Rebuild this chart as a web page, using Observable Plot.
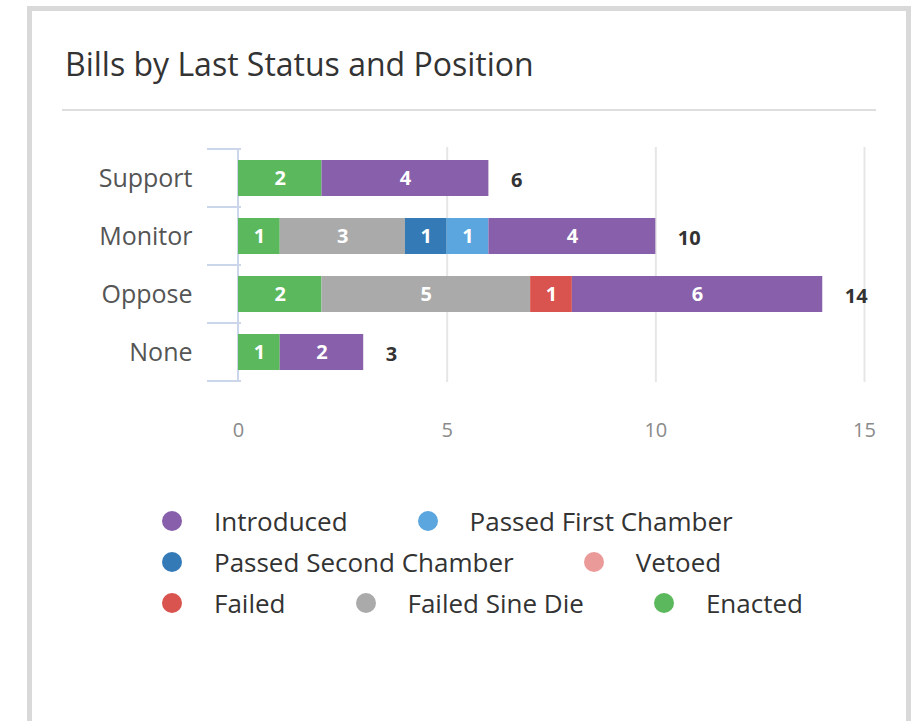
<!DOCTYPE html>
<html><head><meta charset="utf-8">
<script src="https://cdn.jsdelivr.net/npm/d3@7"></script>
<script src="https://cdn.jsdelivr.net/npm/@observablehq/plot@0.6"></script>
<style>
body{margin:0;background:#fff;font-family:"Open Sans",sans-serif;}
#page{position:relative;width:923px;height:721px;overflow:hidden;background:#fff}
#card{position:absolute;left:27px;top:6px;width:884px;height:800px;border:5px solid #d9d9d9;box-sizing:border-box;background:#fff}
#title{position:absolute;left:65px;top:48px;font-size:32px;line-height:32px;color:#333;white-space:nowrap}
#rule{position:absolute;left:62px;top:109px;width:814px;height:2px;background:#dedede}
#chart{position:absolute;left:0;top:130px}
#legend{position:absolute;left:162px;top:500px}
.row{display:flex;align-items:center;height:41px}
.item{display:flex;align-items:center;margin-right:70px;font-size:26px;color:#333;white-space:nowrap}
.dot{width:20px;height:20px;border-radius:50%;margin-right:32px}
</style></head>
<body><div id="page">
<div id="card"></div>
<div id="title">Bills by Last Status and Position</div>
<div id="rule"></div>
<div id="chart"></div>
<div id="legend"></div>
</div>
<script>
const positions = ["Support","Monitor","Oppose","None"];
const statuses = ["Introduced","Passed First Chamber","Passed Second Chamber","Vetoed","Failed","Failed Sine Die","Enacted"];
const statusColors = ["#875fab","#5ba6df","#337ab7","#eb9a9a","#d9534f","#aaaaaa","#5cb85c"];
const introduced = [4,4,6,2];
const passedFirst = [0,1,0,0];
const passedSecond = [0,1,0,0];
const vetoed = [0,0,0,0];
const failed = [0,0,1,0];
const failedSineDie = [0,3,5,0];
const enacted = [2,1,2,1];
const xTicks = [0,5,10,15];
const legendRows = [["Introduced","Passed First Chamber"],["Passed Second Chamber","Vetoed"],["Failed","Failed Sine Die","Enacted"]];

const seriesByStatus = {
  "Introduced": introduced, "Passed First Chamber": passedFirst, "Passed Second Chamber": passedSecond,
  "Vetoed": vetoed, "Failed": failed, "Failed Sine Die": failedSineDie, "Enacted": enacted
};
// stack order: reverse of legend order (Enacted leftmost)
const stackOrder = statuses.slice().reverse();
const rows = [];
for (const s of stackOrder) positions.forEach((p,i)=>{ const v = seriesByStatus[s][i]; if (v>0) rows.push({position:p,status:s,value:v}); });
const totals = positions.map((p,i)=>({position:p,total:statuses.reduce((a,s)=>a+seriesByStatus[s][i],0)}));

function yBracket(index, scales, values, dimensions) {
  const y = scales.y, x0 = scales.x(0);
  const bw = typeof y.bandwidth === "function" ? y.bandwidth() : (typeof y.bandwidth === "number" ? y.bandwidth : (y(positions[1]) - y(positions[0])));
  const tops = positions.map(p=>y(p));
  const bounds = [...tops, tops[tops.length-1]+bw];
  const g = d3.create("svg:g").attr("stroke","#ccd6eb").attr("stroke-width",2);
  g.append("line").attr("x1",x0).attr("x2",x0).attr("y1",bounds[0]).attr("y2",bounds[bounds.length-1]);
  for (const b of bounds) g.append("line").attr("x1",x0-31).attr("x2",x0+3).attr("y1",b).attr("y2",b);
  return g.node();
}

const chart = Plot.plot({
  width: 923, height: 330,
  marginLeft: 238, marginRight: 59, marginTop: 17, marginBottom: 78,
  style: {fontFamily: "Open Sans, sans-serif", background: "transparent"},
  x: {domain: [0,15], ticks: xTicks, label: null},
  y: {domain: positions, padding: 0, label: null},
  color: {domain: statuses, range: statusColors},
  marks: [
    Plot.gridX(xTicks.filter(t=>t>0), {stroke:"#e6e6e6", strokeOpacity:1, strokeWidth:2}),
    Plot.axisX({ticks: xTicks, tickSize: 0, tickPadding: 40, fontSize: 20, color: "#8a8a8a", label: null}),
    Plot.axisY({tickSize: 0, tickPadding: 46, fontSize: 25, color: "#555", label: null}),
    yBracket,
    Plot.barX(rows, Plot.stackX({x:"value", y:"position", fill:"status", insetTop: 11, insetBottom: 11})),
    Plot.text(rows, Plot.stackX({x:"value", y:"position", z:"status", text:"value", fill:"white", fontSize: 20, fontWeight:"bold"})),
    Plot.text(totals, {x:"total", y:"position", text:"total", dx: 22, textAnchor:"start", fill:"#333", fontSize: 20, fontWeight:"bold", dy: 2})
  ]
});
document.getElementById("chart").appendChild(chart);

const legend = document.getElementById("legend");
for (const r of legendRows) {
  const row = document.createElement("div"); row.className = "row";
  for (const s of r) {
    const item = document.createElement("div"); item.className = "item";
    const dot = document.createElement("span"); dot.className = "dot";
    dot.style.background = statusColors[statuses.indexOf(s)];
    item.appendChild(dot); item.appendChild(document.createTextNode(s));
    row.appendChild(item);
  }
  legend.appendChild(row);
}
</script>
</body></html>
